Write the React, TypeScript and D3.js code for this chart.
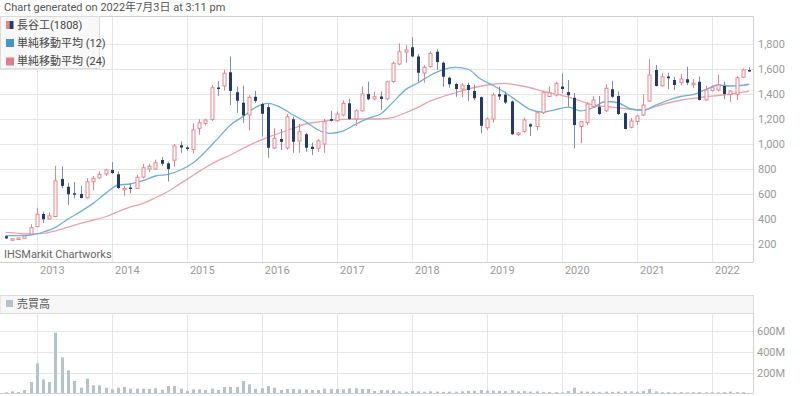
import React, { useRef, useEffect } from "react";
import * as d3 from "d3";

// monthly candles, Aug 2012 .. Jul 2022
const months = d3.timeMonth.range(new Date(2012, 7, 1), new Date(2022, 7, 1));

const opens = [
  262, 238, 242, 246, 280, 340, 440, 400, 420, 720, 658, 606, 600, 570, 698, 728, 760, 792, 758, 640,
  652, 645, 735, 800, 800, 872, 845, 870, 990, 972, 955, 1125, 1165, 1195, 1452, 1465, 1574, 1414, 1330, 1232,
  1378, 1320, 1295, 968, 1040, 968, 1198, 1024, 1078, 978, 966, 1000, 1200, 1186, 1232, 1326, 1200, 1266, 1400, 1360,
  1380, 1362, 1500, 1640, 1736, 1774, 1700, 1568, 1620, 1738, 1650, 1530, 1480, 1440, 1472, 1424, 1375, 1130, 1200, 1398,
  1395, 1340, 1075, 1100, 1158, 1140, 1250, 1380, 1392, 1460, 1415, 1370, 1140, 1170, 1298, 1298, 1265, 1438, 1384, 1246,
  1134, 1180, 1232, 1344, 1592, 1465, 1540, 1512, 1490, 1518, 1474, 1498, 1352, 1428, 1432, 1464, 1395, 1395, 1534, 1592,
];
const highs = [
  265, 248, 252, 268, 358, 490, 460, 452, 825, 820, 690, 695, 665, 725, 745, 782, 802, 855, 780, 665,
  688, 752, 840, 840, 875, 896, 858, 1000, 1020, 985, 1166, 1198, 1202, 1470, 1505, 1592, 1700, 1460, 1466, 1390,
  1425, 1332, 1320, 1126, 1120, 1240, 1218, 1160, 1090, 1010, 1040, 1200, 1266, 1262, 1350, 1362, 1278, 1460, 1498, 1420,
  1420, 1506, 1660, 1806, 1792, 1854, 1720, 1630, 1742, 1758, 1660, 1540, 1490, 1485, 1490, 1475, 1380, 1212, 1410, 1460,
  1420, 1350, 1095, 1210, 1166, 1262, 1420, 1460, 1495, 1566, 1512, 1410, 1185, 1335, 1384, 1384, 1478, 1506, 1420, 1252,
  1208, 1232, 1398, 1678, 1632, 1570, 1570, 1536, 1560, 1618, 1520, 1540, 1466, 1466, 1555, 1498, 1430, 1544, 1605, 1614,
];
const lows = [
  240, 226, 232, 244, 276, 335, 368, 395, 415, 645, 512, 565, 565, 565, 630, 720, 745, 760, 640, 585,
  605, 640, 725, 775, 795, 825, 700, 818, 930, 945, 925, 1075, 1150, 1185, 1385, 1428, 1312, 1250, 1166, 1110,
  1330, 1060, 890, 960, 952, 955, 930, 930, 935, 912, 936, 930, 1180, 1180, 1220, 1192, 1144, 1260, 1350, 1350,
  1272, 1350, 1490, 1630, 1648, 1694, 1498, 1490, 1612, 1592, 1458, 1450, 1378, 1375, 1344, 1350, 1086, 1112, 1170, 1352,
  1320, 1072, 1065, 1090, 1065, 1110, 1240, 1378, 1380, 1406, 1298, 966, 1006, 1150, 1290, 1232, 1255, 1366, 1232, 1118,
  1126, 1152, 1224, 1338, 1460, 1460, 1438, 1432, 1470, 1472, 1446, 1348, 1348, 1420, 1420, 1358, 1336, 1352, 1530, 1578,
];
const closes = [
  245, 242, 248, 264, 330, 438, 398, 425, 705, 665, 598, 600, 568, 698, 726, 758, 792, 768, 648, 645,
  640, 734, 810, 822, 850, 842, 800, 985, 972, 960, 1112, 1170, 1192, 1450, 1442, 1566, 1425, 1346, 1228, 1374,
  1345, 1242, 970, 1046, 1018, 1218, 1018, 1098, 970, 960, 1026, 1178, 1186, 1240, 1326, 1200, 1266, 1400, 1358, 1378,
  1360, 1498, 1646, 1738, 1752, 1700, 1570, 1614, 1726, 1655, 1538, 1478, 1440, 1472, 1432, 1366, 1146, 1200, 1392, 1380,
  1332, 1078, 1088, 1192, 1140, 1250, 1410, 1410, 1486, 1440, 1390, 1152, 1178, 1320, 1352, 1240, 1446, 1378, 1240, 1120,
  1184, 1224, 1312, 1552, 1464, 1538, 1526, 1472, 1520, 1490, 1486, 1352, 1432, 1450, 1472, 1400, 1424, 1530, 1592, 1580,
];
// volume, millions of shares
const volumes = [
  16, 25, 19, 38, 114, 292, 140, 114, 584, 349, 225, 124, 60, 146, 83, 83, 60, 44, 60, 67,
  51, 51, 51, 48, 54, 41, 76, 76, 51, 29, 44, 44, 38, 51, 38, 67, 67, 67, 124, 92,
  48, 54, 76, 60, 38, 48, 48, 44, 44, 38, 38, 51, 48, 48, 44, 54, 54, 48, 48, 29,
  38, 35, 35, 25, 22, 28, 25, 22, 25, 22, 20, 22, 22, 25, 30, 30, 38, 32, 32, 30,
  28, 35, 25, 28, 22, 25, 20, 20, 18, 15, 28, 60, 25, 22, 22, 20, 22, 20, 22, 25,
  25, 22, 28, 48, 25, 18, 18, 16, 18, 16, 18, 18, 16, 16, 16, 18, 22, 18, 18, 10,
];

// moving averages, at every second month (last point = Jul 2022)
const maIndex = [...d3.range(0, 120, 2), 119];
const ma12 = [
  267, 267, 272, 296, 333, 400, 459, 525, 605, 672,
  680, 707, 744, 757, 792, 850, 939, 1045, 1152, 1219,
  1293, 1325, 1293, 1232, 1179, 1112, 1085, 1105, 1157, 1205,
  1240, 1335, 1435, 1490, 1550, 1595, 1613, 1598, 1520, 1468,
  1410, 1340, 1275, 1255, 1275, 1295, 1265, 1290, 1340, 1330,
  1280, 1270, 1310, 1350, 1380, 1395, 1435, 1472, 1464, 1470,
  1478,
];
const ma24 = [
  293, 285, 280, 285, 305, 335, 365, 390, 418, 460,
  497, 525, 570, 620, 685, 750, 812, 867, 912, 965,
  1013, 1055, 1090, 1125, 1160, 1176, 1190, 1197, 1200, 1200,
  1200, 1213, 1250, 1295, 1345, 1380, 1410, 1440, 1462, 1478,
  1485, 1470, 1450, 1422, 1400, 1375, 1345, 1312, 1300, 1290,
  1278, 1272, 1300, 1328, 1350, 1365, 1378, 1388, 1400, 1415,
  1424,
];

const priceTicks = [200, 400, 600, 800, 1000, 1200, 1400, 1600, 1800];
const volumeTicks = [200, 400, 600];
const legendItems = ["長谷工(1808)", "単純移動平均 (12)", "単純移動平均 (24)"];

const FONT = "Roboto, 'Noto Sans CJK JP', sans-serif";
const UP = "#e8838d";
const DOWN = "#233b6b";
const DOWN_WICK = "#7f8eaa";
const GRID = "#e6e6e6";

const App: React.FC = () => {
  const svgRef = useRef<SVGSVGElement | null>(null);

  useEffect(() => {
    document.body.style.margin = "0";
    const svg = d3.select(svgRef.current);
    svg.selectAll("*").remove();
    svg.style("font-family", FONT);

    const right = 753;
    const mainTop = 16, mainBottom = 262;
    const volHead = 295, volTop = 313, volBottom = 394;

    const x = d3.scaleTime()
      .domain([new Date(2013, 0, 1), new Date(2022, 0, 1)])
      .range([37, 712]);
    const y = d3.scaleLinear().domain([0, 2000]).range([269, 19]);
    const yv = d3.scaleLinear().domain([0, 600]).range([volBottom, 331]);
    const years = d3.timeYear.range(new Date(2013, 0, 1), new Date(2023, 0, 1));

    svg.append("text")
      .attr("x", 4).attr("y", 11)
      .attr("fill", "#555").style("font-size", "11px")
      .text("Chart generated on 2022年7月3日 at 3:11 pm");

    // ---- price panel ----
    const main = svg.append("g");
    main.selectAll(".hgrid").data(priceTicks).enter().append("line")
      .attr("x1", 0).attr("x2", right)
      .attr("y1", (d) => Math.round(y(d)) + 0.5).attr("y2", (d) => Math.round(y(d)) + 0.5)
      .attr("stroke", GRID);
    main.selectAll(".vgrid").data(years).enter().append("line")
      .attr("x1", (d) => Math.round(x(d)) + 0.5).attr("x2", (d) => Math.round(x(d)) + 0.5)
      .attr("y1", mainTop).attr("y2", mainBottom)
      .attr("stroke", GRID);
    main.append("path")
      .attr("d", `M0,${mainTop + 0.5}H${right + 0.5}V${mainBottom + 0.5}H0`)
      .attr("fill", "none").attr("stroke", "#d0d0d0");

    main.selectAll(".ylab").data(priceTicks).enter().append("text")
      .attr("x", 758).attr("y", (d) => y(d)).attr("dy", "0.35em")
      .attr("fill", "#9a9a9a").style("font-size", "11px")
      .text((d) => d3.format(",")(d));
    main.selectAll(".xlab").data(years).enter().append("text")
      .attr("x", (d) => x(d) + 3).attr("y", 274)
      .attr("fill", "#9a9a9a").style("font-size", "11px")
      .text((d) => d3.timeFormat("%Y")(d));

    main.append("text")
      .attr("x", 4).attr("y", 258)
      .attr("fill", "#666").style("font-size", "11px")
      .text("IHSMarkit Chartworks");

    // moving averages
    const maLine = d3.line<number>()
      .x((_, k) => x(months[maIndex[k]]))
      .y((d) => y(d))
      .curve(d3.curveMonotoneX);
    main.append("path").attr("d", maLine(ma24)!)
      .attr("fill", "none").attr("stroke", "#eba3ab").attr("stroke-width", 1.3);
    main.append("path").attr("d", maLine(ma12)!)
      .attr("fill", "none").attr("stroke", "#6eb0dd").attr("stroke-width", 1.3);

    // candles
    const candles = main.selectAll(".candle").data(months).enter().append("g");
    candles.append("line")
      .attr("x1", (d) => Math.round(x(d)) + 0.5).attr("x2", (d) => Math.round(x(d)) + 0.5)
      .attr("y1", (_, i) => y(highs[i])).attr("y2", (_, i) => y(lows[i]))
      .attr("stroke", (_, i) => (closes[i] >= opens[i] ? UP : DOWN_WICK));
    candles.append("rect")
      .attr("x", (d, i) => Math.round(x(d)) - (closes[i] >= opens[i] ? 1 : 1))
      .attr("width", (_, i) => (closes[i] >= opens[i] ? 3 : 3))
      .attr("y", (_, i) => y(Math.max(opens[i], closes[i])))
      .attr("height", (_, i) => Math.max(1.5, Math.abs(y(opens[i]) - y(closes[i]))))
      .attr("fill", (_, i) => (closes[i] >= opens[i] ? "#fff" : DOWN))
      .attr("stroke", (_, i) => (closes[i] >= opens[i] ? UP : "none"));

    // legend
    const leg = svg.append("g");
    leg.append("rect")
      .attr("x", 0.5).attr("y", mainTop + 0.5).attr("width", 99).attr("height", 52)
      .attr("fill", "#f8f8f8").attr("stroke", "#dcdcdc");
    leg.append("rect").attr("x", 6).attr("y", 21).attr("width", 3.5).attr("height", 8).attr("fill", UP);
    leg.append("rect").attr("x", 9.5).attr("y", 21).attr("width", 4).attr("height", 8).attr("fill", DOWN);
    leg.append("rect").attr("x", 6).attr("y", 39).attr("width", 8).attr("height", 8).attr("fill", "#4a94c8");
    leg.append("rect").attr("x", 6).attr("y", 57.5).attr("width", 8).attr("height", 8).attr("fill", "#e07c8c");
    leg.selectAll(".legtext").data(legendItems).enter().append("text")
      .attr("x", 17).attr("y", (_, i) => 25 + i * 18.3).attr("dy", "0.35em")
      .attr("fill", "#444").style("font-size", "11px")
      .text((d) => d);

    // ---- volume panel ----
    const vol = svg.append("g");
    vol.append("rect")
      .attr("x", 0).attr("y", volHead + 0.5).attr("width", right + 0.5).attr("height", volTop - volHead)
      .attr("fill", "#f7f7f7").attr("stroke", "#dcdcdc");
    vol.append("rect").attr("x", 6).attr("y", 300).attr("width", 7).attr("height", 7).attr("fill", "#b4c2cc");
    vol.append("text")
      .attr("x", 17).attr("y", 304).attr("dy", "0.35em")
      .attr("fill", "#555").style("font-size", "11px")
      .text("売買高");

    vol.selectAll(".vhgrid").data(volumeTicks).enter().append("line")
      .attr("x1", 0).attr("x2", right)
      .attr("y1", (d) => Math.round(yv(d)) + 0.5).attr("y2", (d) => Math.round(yv(d)) + 0.5)
      .attr("stroke", GRID);
    vol.selectAll(".vvgrid").data(years).enter().append("line")
      .attr("x1", (d) => Math.round(x(d)) + 0.5).attr("x2", (d) => Math.round(x(d)) + 0.5)
      .attr("y1", volTop).attr("y2", volBottom)
      .attr("stroke", GRID);
    vol.append("path")
      .attr("d", `M${right + 0.5},${volTop}V${volBottom - 0.5}H0`)
      .attr("fill", "none").attr("stroke", "#d0d0d0");
    vol.selectAll(".vlab").data(volumeTicks).enter().append("text")
      .attr("x", 757).attr("y", (d) => yv(d)).attr("dy", "0.35em")
      .attr("fill", "#9a9a9a").style("font-size", "11px")
      .text((d) => `${d}M`);

    vol.selectAll(".bar").data(months).enter().append("rect")
      .attr("x", (d) => Math.round(x(d)) - 1)
      .attr("width", 3)
      .attr("y", (_, i) => yv(volumes[i]))
      .attr("height", (_, i) => volBottom - 1 - yv(volumes[i]))
      .attr("fill", "#b4c3cd");
  }, []);

  return <svg ref={svgRef} width={800} height={396} style={{ display: "block" }} />;
};

export default App;
